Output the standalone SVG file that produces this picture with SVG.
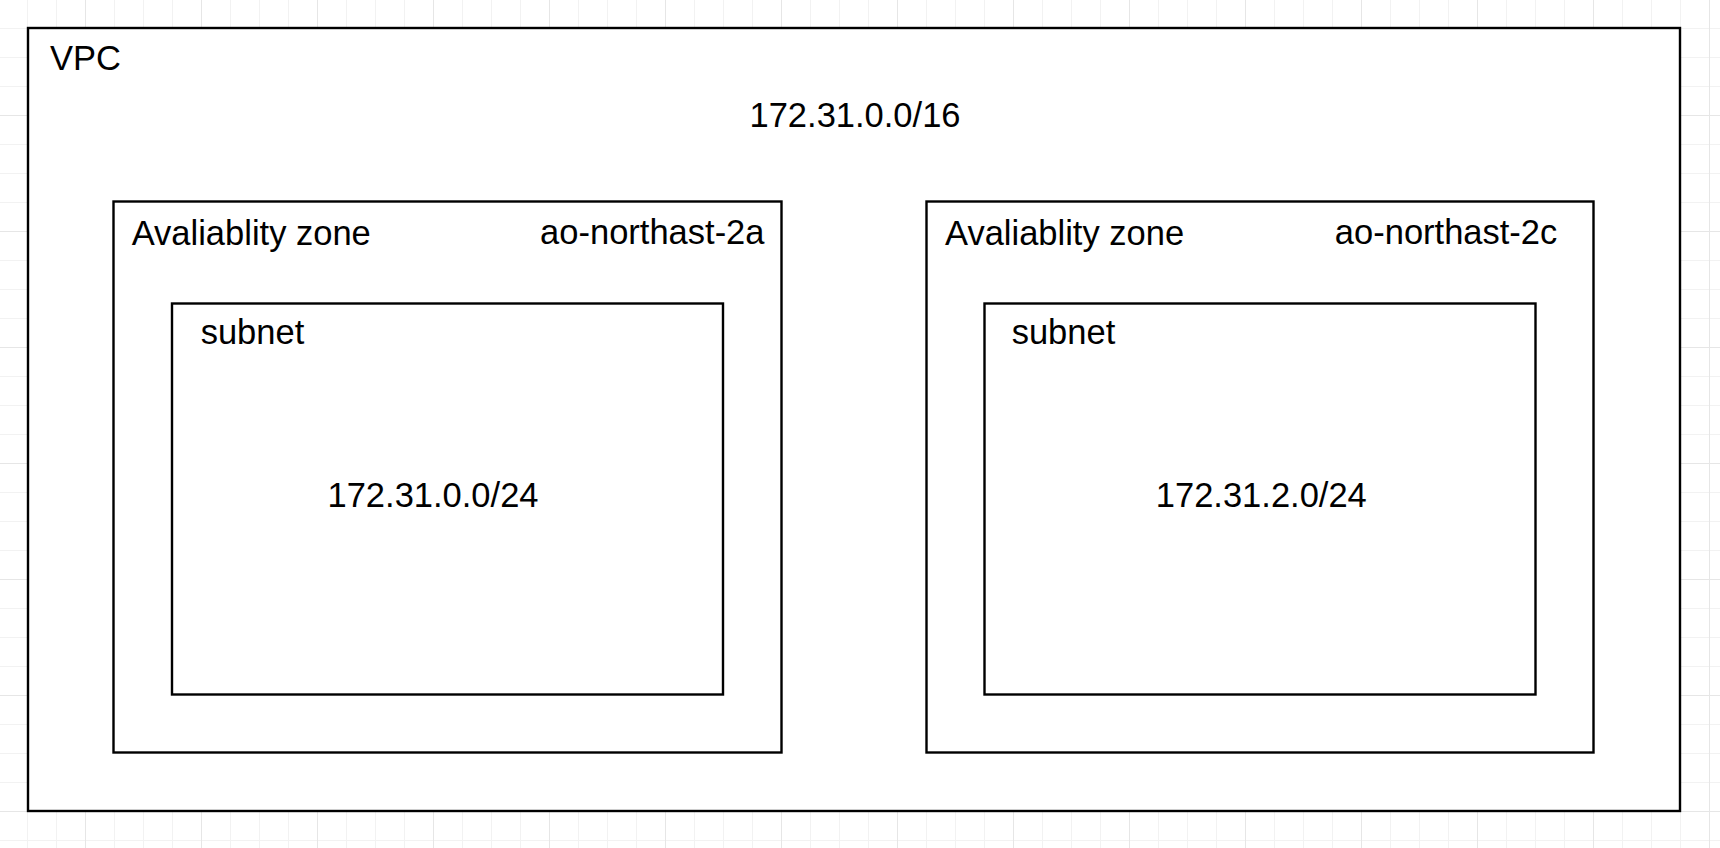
<svg xmlns="http://www.w3.org/2000/svg" width="1720" height="848" viewBox="0 0 1720 848">
  <defs>
    <pattern id="grid" patternUnits="userSpaceOnUse" x="85" y="115" width="116" height="116">
      <path d="M29.5 0V116M58.5 0V116M87.5 0V116M0 29.5H116M0 58.5H116M0 87.5H116" stroke="#f2f2f2" stroke-width="1" fill="none"/>
      <path d="M0.5 0V116M0 0.5H116" stroke="#e6e6e6" stroke-width="1" fill="none"/>
    </pattern>
  </defs>
  <style>
    .box { fill: #ffffff; stroke: #000000; stroke-width: 2.4; }
    .lbl { font-family: "Liberation Sans", Arial, Helvetica, sans-serif; font-size: 34.5px; fill: #000000; }
  </style>
  <rect x="0" y="0" width="1720" height="848" fill="#ffffff"/>
  <rect x="0" y="0" width="1720" height="848" fill="url(#grid)"/>

  <g id="vpc">
    <rect class="box" x="28" y="28" width="1652" height="783"/>
    <text class="lbl" x="50" y="70">VPC</text>
    <text class="lbl" x="855" y="127" text-anchor="middle">172.31.0.0/16</text>
  </g>

  <g id="az-2a">
    <rect class="box" x="113.5" y="201.5" width="668" height="551"/>
    <text class="lbl" x="131.7" y="244.5">Avaliablity zone</text>
    <text class="lbl" x="764.5" y="244" text-anchor="end">ao-northast-2a</text>
  </g>

  <g id="subnet-2a">
    <rect class="box" x="172" y="303.5" width="551" height="391"/>
    <text class="lbl" x="200.7" y="344.3">subnet</text>
    <text class="lbl" x="433" y="506.7" text-anchor="middle">172.31.0.0/24</text>
  </g>

  <g id="az-2c">
    <rect class="box" x="926.5" y="201.5" width="667" height="551"/>
    <text class="lbl" x="945" y="244.5">Avaliablity zone</text>
    <text class="lbl" x="1557.3" y="244" text-anchor="end">ao-northast-2c</text>
  </g>

  <g id="subnet-2c">
    <rect class="box" x="984.5" y="303.5" width="551" height="391"/>
    <text class="lbl" x="1011.7" y="344.3">subnet</text>
    <text class="lbl" x="1261.3" y="506.7" text-anchor="middle">172.31.2.0/24</text>
  </g>

  <g id="connectors"></g>
</svg>
